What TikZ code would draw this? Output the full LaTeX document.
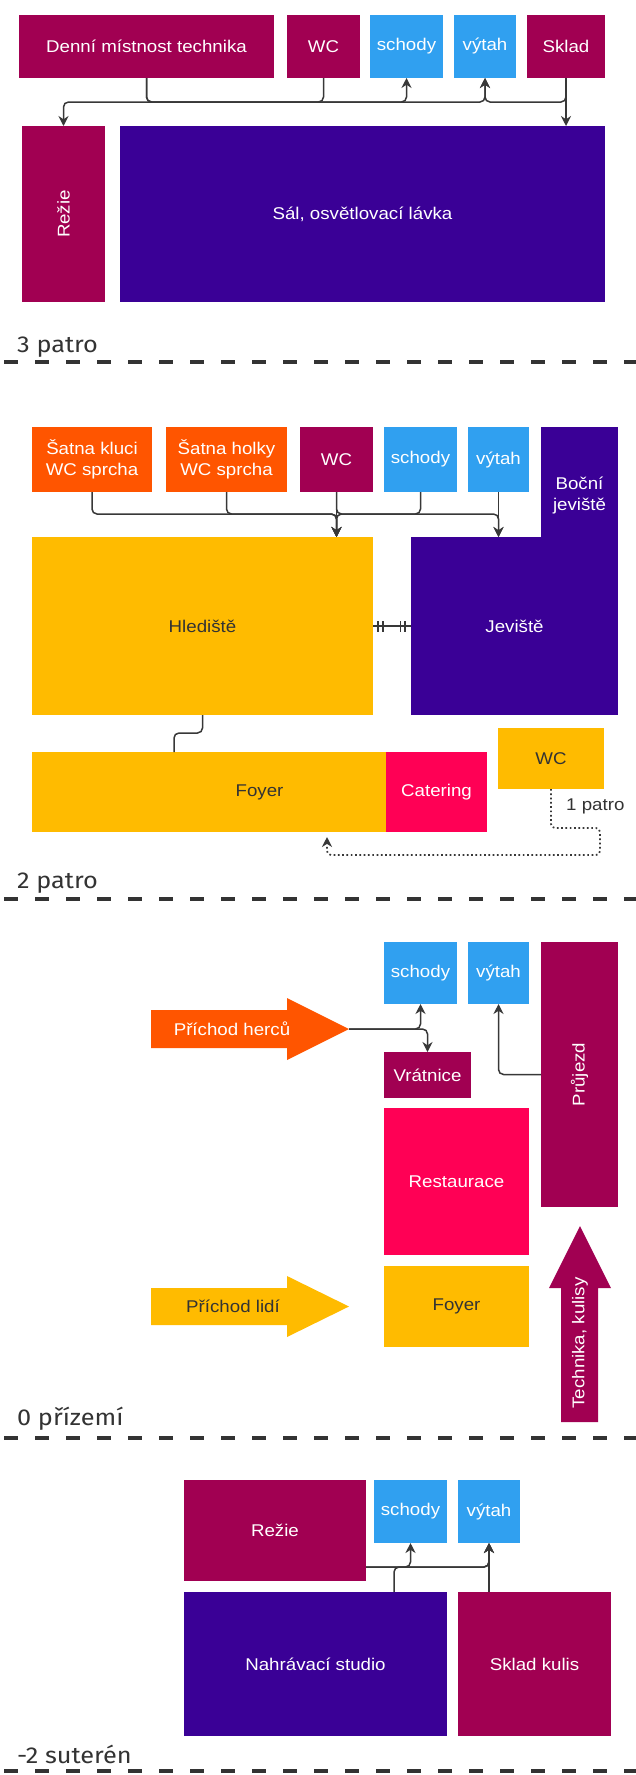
\documentclass[tikz,border=0pt]{standalone}
\usepackage{fontspec}
\setmainfont{Liberation Sans}
\newfontfamily\roomfont[FakeStretch=1.1]{Liberation Sans}
\newfontfamily\floorfont[FakeStretch=1.1]{Fira Sans}
\usetikzlibrary{arrows.meta, positioning, calc, decorations.markings}
\definecolor{burg}{HTML}{A10052}
\definecolor{indig}{HTML}{3A0096}
\definecolor{orng}{HTML}{FF5500}
\definecolor{yel}{HTML}{FFBB00}
\definecolor{pnk}{HTML}{FF0055}
\definecolor{skyb}{HTML}{30A0F0}
\definecolor{txtdark}{HTML}{333333}
\definecolor{linegray}{HTML}{383838}
\tikzset{
	room/.style={rectangle, inner sep=0pt, outer sep=0pt, text=white, align=center,
		font=\roomfont\fontsize{17}{21}\selectfont},
	darkroom/.style={room, text=txtdark},
	dims/.style 2 args={minimum width=#1pt, minimum height=#2pt},
	link/.style={draw=linegray, line width=1.5pt, rounded corners=5pt},
	conn/.style={link, -{Stealth[length=10pt, width=10pt]}},
	tickmark/.style={draw=linegray, line width=1.4pt},
	ticks/.style={postaction={decorate, decoration={markings,
		mark=at position 5pt with {\draw[tickmark] (0,-5.5pt) -- (0,5.5pt);},
		mark=at position 10pt with {\draw[tickmark] (0,-5.5pt) -- (0,5.5pt);},
		mark=at position -6pt with {\draw[tickmark] (0,-5.5pt) -- (0,5.5pt);},
		mark=at position -10.5pt with {\draw[tickmark] (0,-5.5pt) -- (0,5.5pt);}}}},
	dotconn/.style={draw=linegray, line width=1.7pt, dash pattern=on 1.7pt off 2.6pt,
		rounded corners=4pt, -{Stealth[length=10pt, width=10pt]}},
	arrowlbl/.style={inner sep=0pt, text=white, font=\roomfont\fontsize{17}{21}\selectfont},
	lbl/.style={inner sep=0pt, text=txtdark, font=\roomfont\fontsize{17}{21}\selectfont},
	floorlbl/.style={anchor=base west, inner sep=0pt, text=txtdark,
		font=\floorfont\fontsize{23}{27}\selectfont},
	floorline/.style={draw=txtdark, line width=4pt, dash pattern=on 14pt off 17pt, dash phase=27pt},
}
\begin{document}
\begin{tikzpicture}[x=1pt, y=-1pt]
	\useasboundingbox (0,0) rectangle (636,1775);
	\fill[white] (0,0) rectangle (636,1775);
	
	% 3 patro
	\node[room, fill=burg, dims={255}{63}, anchor=north west] (denni3) at (19,15) {Denní místnost technika};
	\node[room, fill=burg, dims={73}{63}, anchor=north west] (wc3) at (287,15) {WC};
	\node[room, fill=skyb, dims={73}{63}, anchor=north west] (schody3) at (370,15) {schody};
	\node[room, fill=skyb, dims={62}{63}, anchor=north west] (vytah3) at (454,15) {výtah};
	\node[room, fill=burg, dims={78}{63}, anchor=north west] (sklad3) at (527,15) {Sklad};
	\node[room, fill=burg, dims={176}{83}, rotate=90] (rezie3) at (63.5,214) {Režie};
	\node[room, fill=indig, dims={485}{176}, anchor=north west] (sal3) at (120,126) {Sál, osvětlovací lávka};
	
	\draw[conn] (wc3.south) -- ++(0,24) -| (rezie3.east);
	\draw[conn] (denni3.south) -- ++(0,24) -| (schody3.south);
	\draw[conn] (denni3.south) -- ++(0,24) -| (vytah3.south);
	\draw[conn] (sklad3.south) -- ++(0,24) -| (vytah3.south);
	\draw[conn] (sklad3.south) -- (sklad3.south |- sal3.north);
	
	\node[floorlbl] (lbl3) at (17,352) {3 patro};
	\draw[floorline] (0,362) -- (636,362);
	
	% 2 patro
	\node[room, fill=orng, dims={120}{65}, anchor=north west] (satnak) at (32,427) {Šatna kluci\\WC sprcha};
	\node[room, fill=orng, dims={121}{65}, anchor=north west] (satnah) at (166,427) {Šatna holky\\WC sprcha};
	\node[room, fill=burg, dims={73}{65}, anchor=north west] (wc2) at (300,427) {WC};
	\node[room, fill=skyb, dims={73}{65}, anchor=north west] (schody2) at (384,427) {schody};
	\node[room, fill=skyb, dims={61}{65}, anchor=north west] (vytah2) at (468,427) {výtah};
	\node[room, fill=indig, dims={77}{136}, anchor=north west] (bocni) at (541,427) {Boční\\jeviště};
	\node[room, fill=indig, dims={207}{178}, anchor=north west] (jeviste) at (411,537) {Jeviště};
	\node[darkroom, fill=yel, dims={341}{178}, anchor=north west] (hlediste) at (32,537) {Hlediště};
	\node[darkroom, fill=yel, dims={455}{80}, anchor=north west] (foyer2) at (32,752) {Foyer};
	\node[room, fill=pnk, dims={101}{80}, anchor=north west] (catering) at (386,752) {Catering};
	\node[darkroom, fill=yel, dims={106}{61}, anchor=north west] (wc2b) at (498,728) {WC};
	\node[lbl, anchor=west] (patro1) at (566,806) {1 patro};
	
	\draw[conn] (satnak.south) -- ++(0,22) -| (wc2.south |- hlediste.north);
	\draw[conn] (satnah.south) -- ++(0,22) -| (wc2.south |- hlediste.north);
	\draw[conn] (schody2.south) -- ++(0,22) -| (wc2.south |- hlediste.north);
	\draw[conn] (wc2.south) -- (wc2.south |- hlediste.north);
	\draw[conn] (wc2.south) -- ++(0,22) -| (vytah2.south |- jeviste.north);
	\draw[conn] (vytah2.south) -- (vytah2.south |- jeviste.north);
	\draw[link] (hlediste.south) -- ++(0,18) -| ([xshift=142pt]foyer2.north west);
	\draw[link, ticks] (hlediste.east) -- (jeviste.west);
	\draw[dotconn] (wc2b.south) -- ++(0,39) -- ++(49,0) -- ++(0,27) -| ([xshift=295pt, yshift=-5pt]foyer2.south west);
	
	\node[floorlbl] (lbl2) at (17,888) {2 patro};
	\draw[floorline] (0,899) -- (636,899);
	
	% 0 prizemi
	\node[room, fill=skyb, dims={73}{62}, anchor=north west] (schody0) at (384,942) {schody};
	\node[room, fill=skyb, dims={61}{62}, anchor=north west] (vytah0) at (468,942) {výtah};
	\node[room, fill=burg, dims={265}{77}, rotate=90] (prujezd) at (579.5,1074.5) {Průjezd};
	\node[room, fill=burg, dims={87}{46}, anchor=north west] (vratnice) at (384,1052) {Vrátnice};
	\node[room, fill=pnk, dims={145}{147}, anchor=north west] (restaurace) at (384,1108) {Restaurace};
	\node[darkroom, fill=yel, dims={145}{81}, anchor=north west] (foyer0) at (384,1266) {Foyer};
	
	\fill[orng] (151,1010) -- (287,1010) -- (287,998) -- (349,1029) -- (287,1060) -- (287,1048) -- (151,1048) -- cycle;
	\node[arrowlbl] (hercu) at (232,1029) {Příchod herců};
	\coordinate (hercutip) at (349,1029);
	\fill[yel] (151,1288) -- (287,1288) -- (287,1276) -- (349,1306.5) -- (287,1337) -- (287,1325) -- (151,1325) -- cycle;
	\node[arrowlbl, text=txtdark] (lidi) at (233,1306.5) {Příchod lidí};
	\fill[burg] (561,1422) -- (561,1288) -- (549,1288) -- (580,1226) -- (611,1288) -- (598,1288) -- (598,1422) -- cycle;
	\node[arrowlbl, rotate=90] (technika) at (580,1343) {Technika, kulisy};
	
	\draw[conn] (hercutip) -| (schody0.south);
	\draw[conn] (hercutip) -| (vratnice.north);
	\draw[conn] (prujezd.north) -| (vytah0.south);
	
	\node[floorlbl] (lbl0) at (17,1425) {0 přízemí};
	\draw[floorline] (0,1438) -- (636,1438);
	
	% -2 suteren
	\node[room, fill=burg, dims={182}{101}, anchor=north west] (rezie2) at (184,1480) {Režie};
	\node[room, fill=skyb, dims={73}{63}, anchor=north west] (schody2m) at (374,1480) {schody};
	\node[room, fill=skyb, dims={62}{63}, anchor=north west] (vytah2m) at (458,1480) {výtah};
	\node[room, fill=indig, dims={263}{144}, anchor=north west] (studio) at (184,1592) {Nahrávací studio};
	\node[room, fill=burg, dims={153}{144}, anchor=north west] (skladk) at (458,1592) {Sklad kulis};
	
	\draw[conn] ([yshift=14pt]rezie2.south east) -| (schody2m.south);
	\draw[conn] ([yshift=14pt]rezie2.south east) -| (vytah2m.south);
	\draw[conn] ([xshift=210pt]studio.north west) -- ++(0,-25) -| (vytah2m.south);
	\draw[conn] (vytah2m.south |- skladk.north) -- (vytah2m.south);
	
	\node[floorlbl] (lblm2) at (17,1763) {-2 suterén};
	\draw[floorline] (0,1771) -- (636,1771);
\end{tikzpicture}
\end{document}
